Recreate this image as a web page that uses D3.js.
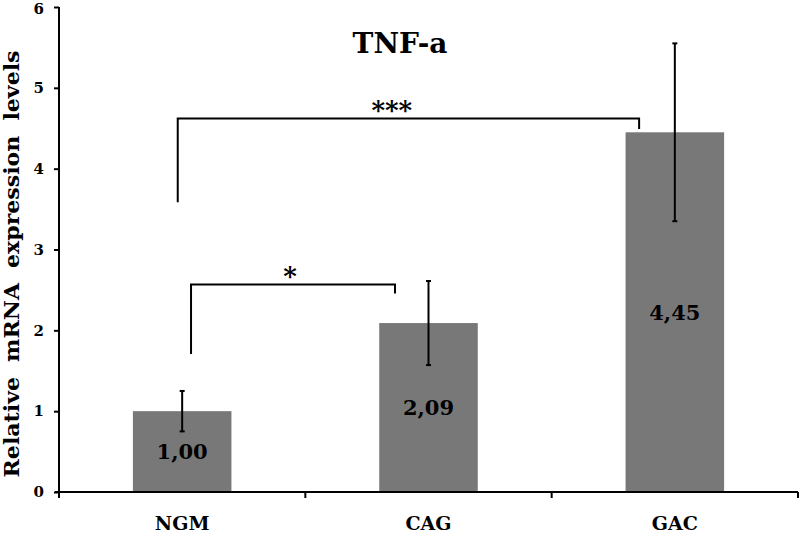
<!DOCTYPE html>
<html>
<head>
<meta charset="utf-8">
<script src="https://cdn.jsdelivr.net/npm/d3@7"></script>
<style>
  body { margin: 0; background: #fff; }
  svg { display: block; font-family: 'DejaVu Serif', serif; font-weight: bold; }
</style>
</head>
<body>
<svg id="chart" width="800" height="536"></svg>
<script>
// data
const categories = ['NGM', 'CAG', 'GAC'];
const means = [1.00, 2.09, 4.45];
const errors = [0.25, 0.52, 1.1];
const valueLabels = ['1,00', '2,09', '4,45'];
const yTicks = [0, 1, 2, 3, 4, 5, 6];

// significance brackets (y in data units, x offsets in band steps from bar centre)
const brackets = [
  { from: 'NGM', to: 'GAC', y: 4.62, fromEnd: 3.585, toEnd: 4.49, fromOff: -0.018, toOff: -0.145, labelAt: 0.464, label: '***' },
  { from: 'NGM', to: 'CAG', y: 2.566, fromEnd: 1.706, toEnd: 2.455, fromOff: 0.036, toOff: -0.136, labelAt: 0.485, label: '*' }
];

const svg = d3.select('#chart');
const margin = { top: 7, right: 2, bottom: 44, left: 59 };
const width = 800, height = 536;
const innerWidth = width - margin.left - margin.right;
const innerHeight = height - margin.top - margin.bottom;

const g = svg.append('g').attr('transform', `translate(${margin.left},${margin.top})`);

const x = d3.scaleBand()
  .domain(categories)
  .range([0, innerWidth])
  .paddingInner(0.6)
  .paddingOuter(0.3);

const y = d3.scaleLinear().domain([0, 6]).range([innerHeight, 0]);

const step = x.step();
const cx = (c) => x(c) + x.bandwidth() / 2;

// bars
g.selectAll('.bar')
  .data(categories)
  .enter()
  .append('rect')
  .attr('class', 'bar')
  .attr('x', (d) => x(d))
  .attr('width', x.bandwidth())
  .attr('y', (d, i) => y(means[i]))
  .attr('height', (d, i) => y(0) - y(means[i]))
  .attr('fill', '#787878');

// error bars
const err = g.selectAll('.err').data(categories).enter().append('g').attr('class', 'err')
  .attr('stroke', '#000').attr('stroke-width', 2);
err.append('line')
  .attr('x1', cx).attr('x2', cx)
  .attr('y1', (d, i) => y(means[i] + errors[i]))
  .attr('y2', (d, i) => y(means[i] - errors[i]));
err.append('line')
  .attr('x1', (d) => cx(d) - 2.5).attr('x2', (d) => cx(d) + 2.5)
  .attr('y1', (d, i) => y(means[i] + errors[i]))
  .attr('y2', (d, i) => y(means[i] + errors[i]));
err.append('line')
  .attr('x1', (d) => cx(d) - 2.5).attr('x2', (d) => cx(d) + 2.5)
  .attr('y1', (d, i) => y(means[i] - errors[i]))
  .attr('y2', (d, i) => y(means[i] - errors[i]));

// value labels inside the bars
g.selectAll('.val')
  .data(categories)
  .enter()
  .append('text')
  .attr('class', 'val')
  .attr('x', cx)
  .attr('y', (d, i) => y(means[i] / 2))
  .attr('dy', '0.36em')
  .attr('text-anchor', 'middle')
  .attr('font-size', 21)
  .text((d, i) => valueLabels[i]);

// y axis
const yAxis = d3.axisLeft(y).tickValues(yTicks).tickSize(5).tickPadding(10).tickFormat(d3.format('d'));
const yG = g.append('g').call(yAxis);
yG.select('.domain').attr('stroke-width', 2).attr('d', `M0,${y(6)}V${y(0)}`);
yG.selectAll('.tick line').attr('stroke-width', 2);
yG.selectAll('.tick text')
  .attr('font-size', 15)
  .attr('font-family', 'DejaVu Serif')
  .attr('font-weight', 'bold')
  .attr('dy', (d) => (d === 6 ? '0.45em' : '0.32em'));

// x axis: baseline with ticks at category boundaries
const xG = g.append('g').attr('stroke', '#000').attr('stroke-width', 2);
xG.append('line').attr('x1', -4).attr('x2', innerWidth).attr('y1', y(0)).attr('y2', y(0));
const boundaries = [0].concat(categories.map((c) => cx(c) + step / 2));
xG.selectAll('.xtick')
  .data(boundaries)
  .enter()
  .append('line')
  .attr('x1', (d) => d).attr('x2', (d) => d)
  .attr('y1', y(0)).attr('y2', y(0) + 6);

g.selectAll('.cat')
  .data(categories)
  .enter()
  .append('text')
  .attr('class', 'cat')
  .attr('x', cx)
  .attr('y', y(0) + 38)
  .attr('text-anchor', 'middle')
  .attr('font-size', 19)
  .text((d) => d);

// significance brackets
brackets.forEach((b) => {
  const x0 = cx(b.from) + b.fromOff * step;
  const x1 = cx(b.to) + b.toOff * step;
  g.append('path')
    .attr('d', `M${x0},${y(b.fromEnd)}V${y(b.y)}H${x1}V${y(b.toEnd)}`)
    .attr('fill', 'none')
    .attr('stroke', '#000')
    .attr('stroke-width', 2);
  g.append('text')
    .attr('x', x0 + (x1 - x0) * b.labelAt)
    .attr('y', y(b.y))
    .attr('text-anchor', 'middle')
    .attr('font-size', 26)
    .text(b.label);
});

// title
svg.append('text')
  .attr('x', 400)
  .attr('y', 53)
  .attr('text-anchor', 'middle')
  .attr('font-size', 28)
  .text('TNF-a');

// y axis title, stretched slightly to the length of the original
svg.append('text')
  .attr('transform', `translate(19, 264) rotate(-90)`)
  .attr('text-anchor', 'middle')
  .attr('font-size', 21)
  .attr('word-spacing', 7)
  .attr('textLength', 427)
  .attr('lengthAdjust', 'spacingAndGlyphs')
  .text('Relative mRNA expression levels');
</script>
</body>
</html>
